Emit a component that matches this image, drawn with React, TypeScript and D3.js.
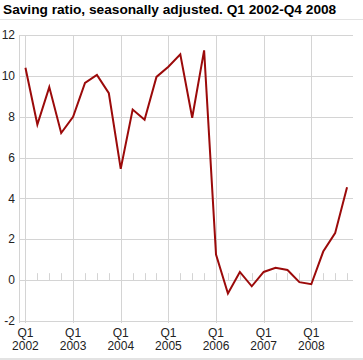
import React from "react";
import * as d3 from "d3";

const title = "Saving ratio, seasonally adjusted. Q1 2002-Q4 2008";
const years = ["2002", "2003", "2004", "2005", "2006", "2007", "2008"];
const quarters = ["Q1", "Q2", "Q3", "Q4"];
const savingRatio = [
  10.4, 7.62, 9.45, 7.2,
  8.0, 9.65, 10.05, 9.15,
  5.45, 8.35, 7.85, 9.95,
  10.45, 11.05, 7.95, 11.25,
  1.25, -0.65, 0.4, -0.3,
  0.4, 0.6, 0.5, -0.1,
  -0.2, 1.4, 2.3, 4.55,
];
const yTicks = [-2, 0, 2, 4, 6, 8, 10, 12];

const W = 363;
const H = 360;
const left = 19.5;
const right = 353;
const top = 35;
const bottom = 321;

export default function App() {
  const labels = years.flatMap((y) => quarters.map((q) => `${q} ${y}`));
  const x = d3.scaleLinear().domain([-0.5, labels.length - 0.5]).range([left, right]);
  const y = d3.scaleLinear().domain([-2, 12]).range([bottom, top]);
  const line = d3
    .line<number>()
    .x((_, i) => x(i))
    .y((d) => y(d));
  const font = "'Liberation Sans', Arial, sans-serif";
  return (
    <svg
      width={W}
      height={H}
      style={{ position: "absolute", left: 0, top: 0, background: "#fff" }}
      fontFamily={font}
    >
      <text x={3} y={14} fontSize={13.7} fontWeight="bold" fill="#000">
        {title}
      </text>
      <line x1={0} x2={W} y1={19.5} y2={19.5} stroke="#e3e3e3" strokeWidth={1} />
      {yTicks.map((t) => (
        <g key={t}>
          <line x1={left} x2={right} y1={Math.round(y(t)) + 0.5} y2={Math.round(y(t)) + 0.5} stroke="#d4d4d4" />
          <text x={15} y={y(t)} dy="0.35em" fontSize={12} textAnchor="end" fill="#222">
            {t}
          </text>
        </g>
      ))}
      {labels.map((l, i) =>
        i % 4 === 0 ? (
          <g key={l}>
            <line x1={Math.round(x(i)) + 0.5} x2={Math.round(x(i)) + 0.5} y1={top} y2={bottom + 2} stroke="#d4d4d4" />
            <text x={x(i)} y={337} fontSize={12} textAnchor="middle" fill="#222">
              {quarters[0]}
            </text>
            <text x={x(i)} y={349.5} fontSize={12} textAnchor="middle" fill="#222">
              {years[i / 4]}
            </text>
          </g>
        ) : (
          <line
            key={l}
            x1={Math.round(x(i)) + 0.5}
            x2={Math.round(x(i)) + 0.5}
            y1={y(0) - 7}
            y2={y(0)}
            stroke="#d4d4d4"
          />
        )
      )}
      <line x1={left} x2={left} y1={top} y2={bottom + 2} stroke="#d4d4d4" />
      <path d={line(savingRatio) || ""} fill="none" stroke="#9b0a0a" strokeWidth={2} strokeLinejoin="miter" />
      <line x1={0} x2={W} y1={359} y2={359} stroke="#e3e3e3" strokeWidth={2} />
    </svg>
  );
}
